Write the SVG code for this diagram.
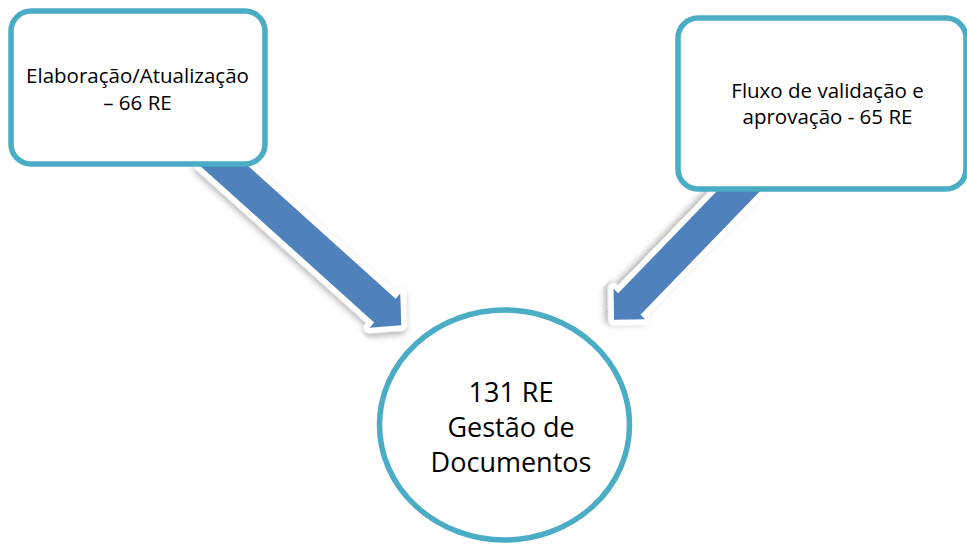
<svg xmlns="http://www.w3.org/2000/svg" width="967" height="544" viewBox="0 0 967 544">
  <defs>
    <filter id="sh" x="-20%" y="-20%" width="140%" height="140%">
      <feDropShadow dx="2" dy="3" stdDeviation="3" flood-color="#000" flood-opacity="0.3"/>
    </filter>
  </defs>
  <style>
    .box { fill: #ffffff; stroke: #4BACC6; stroke-width: 5.5; }
    .arrow-bg { fill: #ffffff; stroke: #ffffff; stroke-width: 11; stroke-linejoin: round; filter: url(#sh); }
    .arrow { fill: #4F81BD; }
    .t { font-family: "Open Sans", "Noto Sans", "Liberation Sans", sans-serif; fill: #000000; text-anchor: middle; }
    .s { font-size: 20.5px; }
    .b { font-size: 27px; }
  </style>
  <rect width="967" height="544" fill="#ffffff"/>
  <g id="connectors">
    <g id="arrow-left" transform="translate(211,154) rotate(42)">
      <polygon class="arrow-bg" points="0,-16 234,-16 234,-23 256,0 234,23 234,16 0,16"/>
      <polygon class="arrow" points="0,-16 234,-16 234,-23 256,0 234,23 234,16 0,16"/>
    </g>
    <g id="arrow-right" transform="translate(753,176) rotate(134)">
      <polygon class="arrow-bg" points="0,-15.5 178,-15.5 178,-22 200,0 178,22 178,15.5 0,15.5"/>
      <polygon class="arrow" points="0,-15.5 178,-15.5 178,-22 200,0 178,22 178,15.5 0,15.5"/>
    </g>
  </g>
  <g id="node-elaboracao">
    <rect class="box" x="11" y="11" width="254" height="153" rx="20"/>
    <text class="t s" x="137.5" y="83">Elaboração/Atualização</text>
    <text class="t s" x="137.5" y="110">– 66 RE</text>
  </g>
  <g id="node-fluxo">
    <rect class="box" x="678" y="18" width="288" height="171" rx="20"/>
    <text class="t s" x="827.5" y="98">Fluxo de validação e</text>
    <text class="t s" x="827.5" y="124">aprovação - 65 RE</text>
  </g>
  <g id="node-gestao">
    <ellipse class="box" cx="504.5" cy="425" rx="125" ry="115"/>
    <text class="t b" x="511" y="402">131 RE</text>
    <text class="t b" x="511" y="437">Gestão de</text>
    <text class="t b" x="511" y="472">Documentos</text>
  </g>
</svg>
